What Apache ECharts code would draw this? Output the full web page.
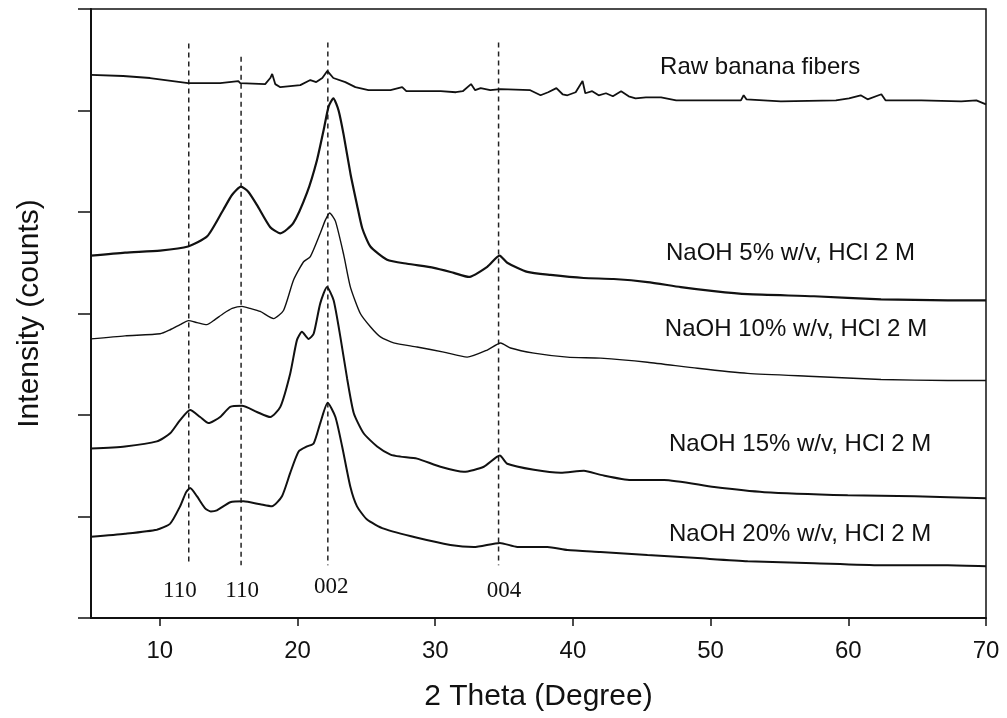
<!DOCTYPE html>
<html>
<head>
<meta charset="utf-8">
<title>XRD patterns of banana fibers</title>
<script src="https://cdn.jsdelivr.net/npm/echarts@6/dist/echarts.min.js"></script>
<style>
  html, body { margin: 0; padding: 0; background: #fff; }
  #chart { width: 1007px; height: 718px; }
</style>
</head>
<body>
<div id="chart"></div>
<script>
// 2θ (degree), intensity (counts, stacked/offset for display)
const rawFibers = [
  [5.0, 535], [7.33, 534], [9.29, 532], [12.05, 527], [14.38, 527], [15.7, 529], [15.84, 527],
  [17.65, 526], [18.02, 532], [18.16, 536], [18.38, 526], [18.75, 523], [20.2, 525],
  [20.93, 530], [21.36, 528], [21.8, 532], [22.16, 539], [22.6, 532], [23.47, 528],
  [24.2, 523], [25.15, 520], [26.75, 520], [27.6, 523], [27.9, 519], [30.4, 519],
  [31.5, 518], [32.0, 519], [32.6, 526], [32.9, 520], [33.3, 522], [34.0, 520],
  [34.75, 521], [36.9, 520], [37.65, 515], [38.2, 518], [38.8, 522], [39.25, 516],
  [39.6, 515], [40.2, 518], [40.7, 529], [40.9, 517], [41.4, 519], [41.87, 515],
  [42.4, 517], [42.9, 514], [43.5, 519], [44.05, 514], [44.55, 512], [45.3, 513],
  [46.4, 513], [47.5, 510], [49.3, 510], [52.2, 510], [52.4, 515], [52.6, 511],
  [55.1, 509], [59.1, 510], [60.05, 512], [60.9, 515], [61.4, 511], [62.4, 516],
  [62.7, 510], [65.3, 510], [68.2, 509], [69.3, 510], [70.0, 506]
];

const naoh5 = [
  [5.0, 357], [7.47, 360], [10.02, 362], [12.05, 366], [13.44, 376], [14.6, 402],
  [15.25, 417], [15.89, 425], [16.42, 420], [17.05, 407], [18.02, 385], [18.75, 379],
  [19.69, 389], [20.69, 419], [21.41, 451], [21.9, 481], [22.26, 504], [22.6, 512],
  [22.98, 500], [23.35, 476], [23.84, 438], [24.32, 407], [24.7, 384], [25.29, 366],
  [26.5, 353], [27.96, 349], [29.9, 345], [31.35, 340], [32.44, 336], [33.78, 346],
  [34.67, 357], [35.23, 350], [36.69, 341], [38.38, 338], [40.78, 335], [42.96, 334],
  [45.41, 331], [47.84, 326], [50.24, 322], [52.69, 319], [57.51, 317], [62.38, 314],
  [67.23, 313], [70.0, 313]
];

const naoh10 = [
  [5.0, 275], [7.47, 278], [10.02, 280], [10.75, 284], [11.47, 289], [12.08, 293],
  [12.71, 291], [13.41, 289], [14.0, 294], [14.62, 300], [15.25, 305], [15.96, 307],
  [16.56, 305], [17.29, 302], [18.26, 295], [18.98, 303], [19.71, 333], [20.44, 351],
  [20.93, 356], [21.65, 379], [22.02, 392], [22.33, 399], [22.75, 391], [23.35, 358],
  [23.84, 326], [24.56, 300], [25.29, 287], [26.02, 277], [26.98, 271], [28.68, 267],
  [30.62, 262], [32.32, 257], [33.78, 264], [34.75, 271], [35.47, 266], [37.17, 261],
  [39.6, 257], [42.0, 256], [45.41, 252], [49.05, 246], [52.69, 241], [57.51, 238],
  [62.38, 235], [67.23, 234], [70.0, 234]
];

const naoh15 = [
  [5.0, 167], [7.47, 169], [9.78, 174], [10.75, 182], [11.47, 195], [12.2, 205],
  [12.93, 198], [13.53, 192], [14.38, 198], [15.11, 208], [15.96, 209], [17.05, 203],
  [18.02, 198], [18.75, 208], [19.47, 241], [19.96, 274], [20.32, 282], [20.8, 275],
  [21.17, 280], [21.65, 310], [22.14, 326], [22.62, 313], [23.11, 277], [23.6, 236],
  [24.08, 202], [24.8, 182], [25.78, 169], [26.75, 161], [27.47, 159], [28.68, 157],
  [30.38, 149], [32.07, 144], [33.53, 149], [34.69, 160], [35.23, 152], [37.17, 146],
  [39.11, 143], [40.8, 145], [42.02, 141], [44.2, 136], [46.62, 136], [50.26, 129],
  [53.9, 124], [59.96, 121], [64.8, 120], [70.0, 118]
];

const naoh20 = [
  [5.0, 80], [7.47, 83], [9.78, 87], [10.75, 93], [11.47, 110], [11.91, 124],
  [12.2, 128], [12.69, 120], [13.29, 108], [13.7, 105], [14.14, 106], [15.11, 114], [16.08, 115],
  [17.29, 112], [18.14, 110], [18.87, 120], [19.47, 143], [20.08, 164], [20.69, 169],
  [21.17, 172], [21.65, 192], [22.19, 212], [22.75, 198], [23.24, 169], [23.84, 129],
  [24.32, 110], [25.05, 97], [26.26, 88], [28.69, 79], [31.1, 72], [32.8, 70],
  [34.69, 74], [35.96, 70], [38.14, 70], [39.6, 67], [42.0, 65], [45.41, 62],
  [49.05, 59], [52.69, 56], [57.51, 54], [62.38, 52], [67.23, 52], [70.0, 51]
];

// Crystal-plane reference positions (2θ) with their Miller indices
const planePositions = [12.1, 15.9, 22.2, 34.6];
const planeLabels = ['110', '110', '002', '004'];
const planeLineTop = [566, 553, 567, 567];
const planeLineBottom = 52;

// Sample names
const sampleNames = [
  'Raw banana fibers',
  'NaOH 5% w/v, HCl 2 M',
  'NaOH 10% w/v, HCl 2 M',
  'NaOH 15% w/v, HCl 2 M',
  'NaOH 20% w/v, HCl 2 M'
];

const xTicks = [10, 20, 30, 40, 50, 60, 70];

// Where the text annotations sit, in axis units
const sampleLabelAt = [[53.6, 542], [55.8, 359], [56.2, 284], [56.5, 171], [56.5, 82]];
const planeLabelAt = [[11.45, 27], [15.98, 27], [22.45, 31], [35.0, 27]];

const textColor = '#111';
const sans = '"Liberation Sans", Arial, sans-serif';
const serif = '"Liberation Serif", "Times New Roman", serif';

const curveSeries = [rawFibers, naoh5, naoh10, naoh15, naoh20].map((d, i) => ({
  type: 'line',
  name: sampleNames[i],
  data: d,
  showSymbol: false,
  smooth: i === 0 ? false : 0.2,
  lineStyle: { color: '#111', width: [1.8, 2.2, 1.4, 2.0, 2.0][i] },
  z: 3,
  silent: true
}));

const planeSeries = planePositions.map((x, i) => ({
  type: 'line',
  data: [[x, planeLineTop[i]], [x, planeLineBottom]],
  showSymbol: false,
  lineStyle: { color: '#222', width: 1.5, type: [5, 4] },
  z: 2,
  silent: true
}));

const sampleTextSeries = {
  type: 'scatter',
  symbolSize: 0,
  silent: true,
  itemStyle: { opacity: 1 },
  data: sampleLabelAt.map((p, i) => ({ value: p, name: sampleNames[i] })),
  label: {
    show: true,
    position: 'inside',
    formatter: p => p.name,
    color: textColor,
    fontFamily: sans,
    fontSize: 24
  },
  z: 5
};

const planeTextSeries = {
  type: 'scatter',
  symbolSize: 0,
  silent: true,
  itemStyle: { opacity: 1 },
  data: planeLabelAt.map((p, i) => ({ value: p, name: planeLabels[i] })),
  label: {
    show: true,
    position: 'inside',
    formatter: p => p.name,
    color: textColor,
    fontFamily: serif,
    fontSize: 23
  },
  z: 5
};

const chart = echarts.init(document.getElementById('chart'), null, { renderer: 'canvas' });

chart.setOption({
  backgroundColor: '#fff',
  animation: false,
  grid: {
    left: 91, right: 21, top: 9, bottom: 100,
    show: true, borderColor: '#111', borderWidth: 1.5
  },
  xAxis: {
    type: 'value',
    min: 5, max: 70,
    name: '2 Theta (Degree)',
    nameLocation: 'middle',
    nameGap: 64,
    nameTextStyle: { fontFamily: sans, fontSize: 30, color: textColor },
    axisLine: { show: true, onZero: false, lineStyle: { color: '#111', width: 2 } },
    axisTick: { show: true, inside: false, length: 8, customValues: xTicks, lineStyle: { color: '#111', width: 1.5 } },
    axisLabel: { show: true, customValues: xTicks, margin: 21, fontFamily: sans, fontSize: 24, color: textColor },
    splitLine: { show: false }
  },
  yAxis: {
    type: 'value',
    min: 0, max: 600, interval: 100,
    name: 'Intensity (counts)',
    nameLocation: 'middle',
    nameGap: 46,
    nameRotate: 90,
    nameTextStyle: { fontFamily: sans, fontSize: 30, color: textColor },
    axisLine: { show: true, onZero: false, lineStyle: { color: '#111', width: 2 } },
    axisTick: { show: true, inside: false, length: 13, lineStyle: { color: '#111', width: 1.5 } },
    axisLabel: { show: false },
    splitLine: { show: false }
  },
  series: [...planeSeries, ...curveSeries, sampleTextSeries, planeTextSeries]
});
</script>
</body>
</html>
